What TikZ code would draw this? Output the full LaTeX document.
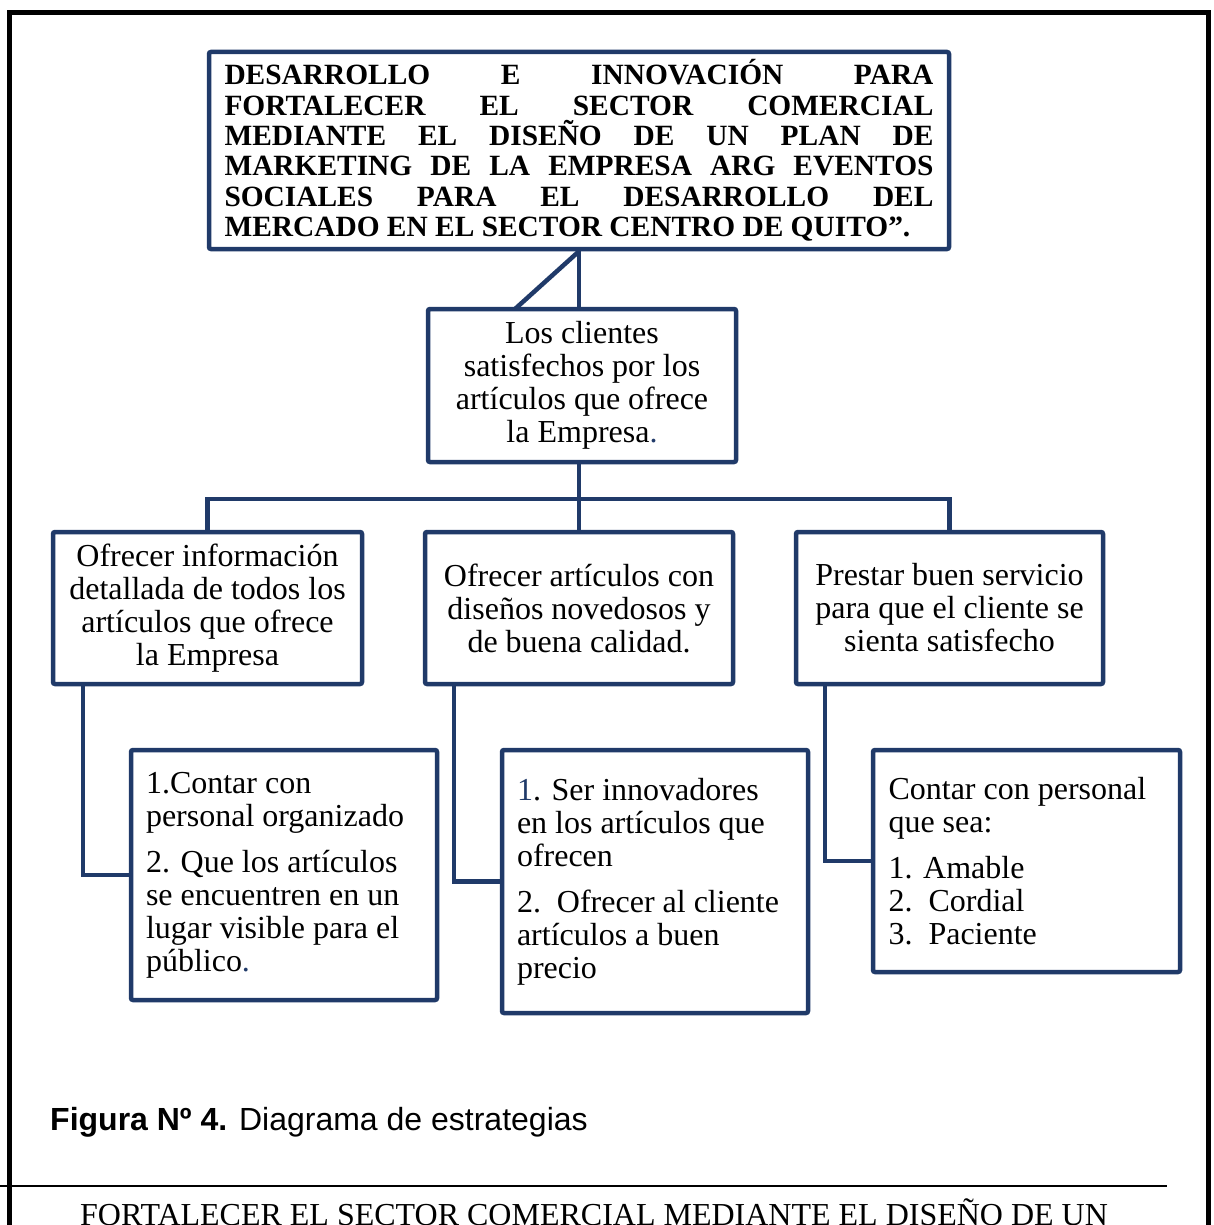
\documentclass[tikz,border=0pt]{standalone}
\usepackage{fontspec}
\setmainfont{Liberation Serif}
\newfontfamily\captionsans{Liberation Sans}
\definecolor{azul}{RGB}{32,58,105}

\begin{document}
\begin{tikzpicture}[x=1pt, y=-1pt,
    caja/.style={draw=azul, line width=4.5pt, rounded corners=2pt, fill=white, inner sep=0pt,
        font=\fontsize{32}{33}\selectfont},
    centrada/.style={caja, align=center},
    lista/.style={caja, align=flush left, text width=276pt},
    enlace/.style={draw=azul, line width=4.5pt}]
        \useasboundingbox (0,0) rectangle (1213,1225);
        % marco de la pagina
        \draw[line width=5pt] (9.5,1230) -- (9.5,12.5) -- (1208.5,12.5) -- (1208.5,1230);
        \draw[line width=2.2pt] (0,1186) -- (1167,1186);

        \node[caja, align=justify, text width=709pt, minimum width=740pt, minimum height=197pt,
            font=\fontsize{29.4}{30.4}\selectfont\bfseries] (titulo) at (579,150.5)
            {DESARROLLO E INNOVACIÓN PARA\linebreak FORTALECER EL SECTOR COMERCIAL\linebreak
             MEDIANTE EL DISEÑO DE UN PLAN DE\linebreak MARKETING DE LA EMPRESA ARG EVENTOS\linebreak
             SOCIALES PARA EL DESARROLLO DEL\linebreak MERCADO EN EL SECTOR CENTRO DE QUITO”.};
        \node[centrada, minimum width=308pt, minimum height=153pt] (clientes) at (582,385.5)
            {Los clientes\\satisfechos por los\\artículos que ofrece\\la Empresa\textcolor{azul}{.}};
        \node[centrada, minimum width=309pt, minimum height=152pt] (info) at (207.5,608)
            {Ofrecer información\\detallada de todos los\\artículos que ofrece\\la Empresa};
        \node[centrada, minimum width=308pt, minimum height=152pt] (articulos) at (579,608)
            {Ofrecer artículos con\\diseños novedosos y\\de buena calidad.};
        \node[centrada, minimum width=307pt, minimum height=152pt] (servicio) at (949.5,608)
            {Prestar buen servicio\\para que el cliente se\\sienta satisfecho};
        \node[lista, minimum width=306pt, minimum height=250pt] (accInfo) at (284,875)
            {1.Contar con\\personal organizado\\[13pt]2. Que los artículos\\se encuentren en un\\lugar visible para el\\público\textcolor{azul}{.}};
        \node[lista, minimum width=306pt, minimum height=263pt] (accArt) at (655,881.5)
            {\textcolor{azul}{1}. Ser innovadores\\en los artículos que\\ofrecen\\[13pt]2.\ \ Ofrecer al cliente\\artículos a buen\\precio};
        \node[lista, minimum width=307pt, minimum height=222pt] (accServ) at (1026.5,861)
            {Contar con personal\\que sea:\\[13pt]1. Amable\\2.\ \ Cordial\\3.\ \ Paciente};

        \coordinate (bus) at (579,499);
        \coordinate (diag) at (515,309);
        \draw[enlace] (titulo.south) -- (titulo.south |- clientes.north);
        \draw[enlace] (titulo.south) -- (diag);
        \draw[enlace] (titulo.south |- clientes.south) -- (articulos.north);
        \draw[enlace] (info.north) |- (bus) -| (servicio.north);
        \draw[enlace] ([xshift=32pt]info.south west) |- (accInfo.west);
        \draw[enlace] ([xshift=31pt]articulos.south west) |- (accArt.west);
        \draw[enlace] ([xshift=31pt]servicio.south west) |- (accServ.west);

        \node[anchor=base west, inner sep=0pt, font=\captionsans\fontsize{32}{38}\selectfont] (figura) at (50,1130)
            {\textbf{Figura Nº 4.} Diagrama de estrategias};
        \node[anchor=base west, inner sep=0pt, font=\fontsize{32}{38}\selectfont] (pie) at (80,1225)
            {FORTALECER EL SECTOR COMERCIAL MEDIANTE EL DISEÑO DE UN};
    \end{tikzpicture}
\end{document}
